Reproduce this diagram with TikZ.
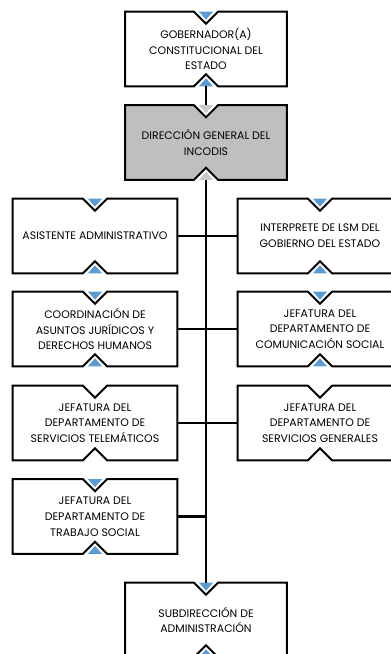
\documentclass[tikz,border=0pt]{standalone}
\usepackage{fontspec}
\setmainfont{Poppins}
\usetikzlibrary{calc,backgrounds}
\definecolor{azul}{HTML}{5B9BD5}
\definecolor{grisdir}{HTML}{BFBFBF}
\definecolor{gristri}{HTML}{CACACA}
\begin{document}
\begin{tikzpicture}[x=0.75pt,y=-0.75pt,
  puesto/.style={inner sep=0pt,minimum height=55.5pt,minimum width=120.75pt,align=center,
    font=\fontsize{8.2}{11.8}\selectfont},
  lado/.style={puesto,minimum width=123pt},
  caja/.style={draw=black,line width=1.5pt,line join=miter},
  tronco/.style={draw=black,line width=2.2pt},
  rama/.style={draw=black,line width=1.6pt}]
\useasboundingbox (0,0) rectangle (391,654);
\clip (0,0) rectangle (391,654);
\node[puesto] (gob) at (206,49) {GOBERNADOR(A)\\CONSTITUCIONAL DEL\\ESTADO};
\node[puesto] (dir) at (206,142.5) {DIRECCIÓN GENERAL DEL\\INCODIS};
\node[lado] (asis) at (95,236) {ASISTENTE ADMINISTRATIVO};
\node[lado] (inter) at (320,236) {INTERPRETE DE LSM DEL\\GOBIERNO DEL ESTADO};
\node[lado] (coord) at (95,329) {COORDINACIÓN DE\\ASUNTOS JURÍDICOS Y\\DERECHOS HUMANOS};
\node[lado] (comu) at (320,329) {JEFATURA DEL\\DEPARTAMENTO DE\\COMUNICACIÓN SOCIAL};
\node[lado] (tele) at (95,423) {JEFATURA DEL\\DEPARTAMENTO DE\\SERVICIOS TELEMÁTICOS};
\node[lado] (gene) at (320,423) {JEFATURA DEL\\DEPARTAMENTO DE\\SERVICIOS GENERALES};
\node[lado] (trab) at (95,516.5) {JEFATURA DEL\\DEPARTAMENTO DE\\TRABAJO SOCIAL};
\node[puesto] (sub) at (206,620) {SUBDIRECCIÓN DE\\ADMINISTRACIÓN};
\begin{scope}[on background layer]
\foreach \n/\f/\t in {gob/white/azul,dir/grisdir/gristri,asis/white/azul,inter/white/azul,
    coord/white/azul,comu/white/azul,tele/white/white,gene/white/white,trab/white/azul,sub/white/azul}
  {
  \draw[caja,fill=\f] (\n.north west) -- ($(\n.north)+(-12,0)$) -- ($(\n.north)+(0,12)$)
    -- ($(\n.north)+(12,0)$) -- (\n.north east) -- (\n.south east) -- ($(\n.south)+(12,0)$)
    -- ($(\n.south)+(0,-12)$) -- ($(\n.south)+(-12,0)$) -- (\n.south west) -- cycle;
  \fill[\t] ($(\n.north)+(-7,0)$) -- ($(\n.north)+(7,0)$) -- ($(\n.north)+(0,8)$) -- cycle;
  \fill[\t] ($(\n.south)+(-7,0)$) -- ($(\n.south)+(7,0)$) -- ($(\n.south)+(0,-8)$) -- cycle;
  }
\end{scope}
\draw[rama] (gob.south) -- (dir.north);
\draw[tronco] (dir.south) -- (sub.north);
\foreach \n in {asis,coord,tele,trab}
  \draw[rama] (\n.east) -- (\n.east -| dir.south);
\foreach \n in {inter,comu,gene}
  \draw[rama] (\n.west) -- (\n.west -| dir.south);
\end{tikzpicture}
\end{document}
